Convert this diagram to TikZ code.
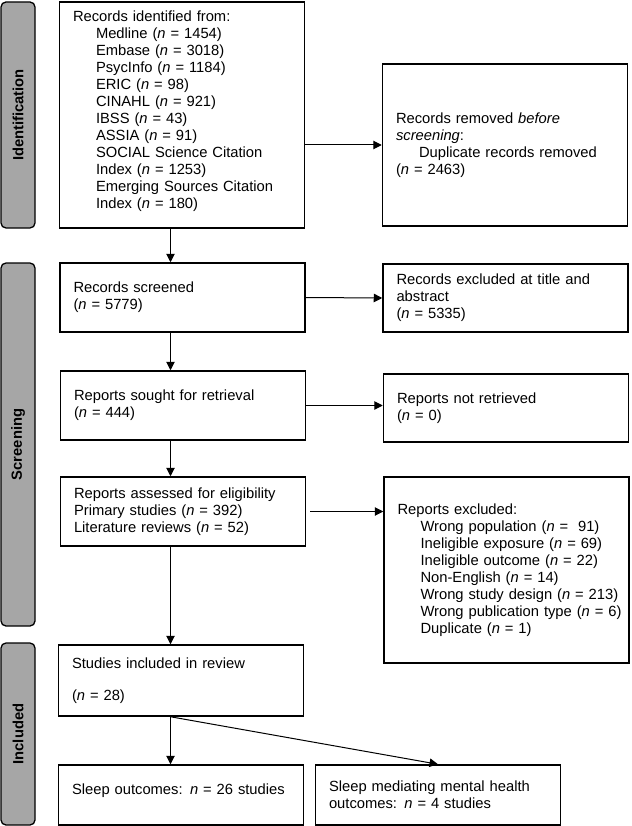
\documentclass[tikz,border=0pt]{standalone}
\usepackage{fontspec}
\setmainfont{Liberation Sans}
\usetikzlibrary{arrows.meta}

\definecolor{stagegray}{rgb}{0.650000, 0.650000, 0.650000}
\newcommand{\ind}{\hspace*{23pt}}

\begin{document}
\begin{tikzpicture}[x=1pt,y=-1pt,
  every node/.style={font=\fontsize{14.75pt}{17pt}\selectfont},
  box/.style={draw, line width=1.5pt, align=left, text width=218pt,
    inner xsep=13.5pt, inner ysep=0pt},
  stage/.style={draw, line width=1.3pt, fill=stagegray, rounded corners=5pt,
    rotate=90, minimum height=34pt, inner sep=0pt,
    font=\fontsize{14.75pt}{17pt}\selectfont\bfseries},
  arr/.style={line width=1pt, -{Triangle[length=8.5pt,width=8.5pt]}}]
\useasboundingbox (0,0) rectangle (631,826);

% stages
\node[stage, minimum width=226pt] (ident) at (18,115) {Identification};
\node[stage, minimum width=363pt] (screen) at (18,444.5) {Screening};
\node[stage, minimum width=182pt] (incl) at (18,734) {Included};

% identification
\node[box, minimum height=226pt] (records) at (182,115) {Records identified from:\\
\ind Medline (\textit{n} = 1454)\\
\ind Embase (\textit{n} = 3018)\\
\ind PsycInfo (\textit{n} = 1184)\\
\ind ERIC (\textit{n} = 98)\\
\ind CINAHL (\textit{n} = 921)\\
\ind IBSS (\textit{n} = 43)\\
\ind ASSIA (\textit{n} = 91)\\
\ind SOCIAL Science Citation\\
\ind Index (\textit{n} = 1253)\\
\ind Emerging Sources Citation\\
\ind Index (\textit{n} = 180)\\[-7pt]\mbox{}};
\node[box, minimum height=162pt] (removed) at (505,145) {Records removed \textit{before}\\
\textit{screening}:\\
\ind Duplicate records removed\\
(\textit{n} = 2463)};

% screening
\node[box, minimum height=69pt] (screened) at (182.5,297.5) {Records screened\\(\textit{n} = 5779)};
\node[box, minimum height=68pt] (excluded) at (505.5,298) {Records excluded at title and\\abstract\\(\textit{n} = 5335)};
\node[box, minimum height=69pt] (sought) at (183,405.5) {Reports sought for retrieval\\(\textit{n} = 444)};
\node[box, minimum height=68pt] (notret) at (506,408) {Reports not retrieved\\(\textit{n} = 0)};
\node[box, minimum height=69pt] (assessed) at (183,511.5) {Reports assessed for eligibility\\
Primary studies (\textit{n} = 392)\\
Literature reviews (\textit{n} = 52)};
\node[box, minimum height=186pt] (rexcl) at (506.5,570) {Reports excluded:\\
\ind\mbox{Wrong population (\textit{n} = \ 91)}\\
\ind\mbox{Ineligible exposure (\textit{n} = 69)}\\
\ind\mbox{Ineligible outcome (\textit{n} = 22)}\\
\ind\mbox{Non-English (\textit{n} = 14)}\\
\ind\mbox{Wrong study design (\textit{n} = 213)}\\
\ind\mbox{Wrong publication type (\textit{n} = 6)}\\
\ind\mbox{Duplicate (\textit{n} = 1)}};

% included
\node[box, minimum height=71pt] (studies) at (181,680.5) {Studies included in review\\[14.6pt](\textit{n} = 28)};
\node[box, minimum height=60pt] (sleep) at (181,795) {Sleep outcomes: \textit{n} = 26 studies\\[-6pt]\mbox{}};
\node[box, minimum height=60pt] (mediating) at (438,795) {Sleep mediating mental health\\outcomes: \textit{n} = 4 studies};

% arrows
\coordinate (spine) at (170.5,0);
\draw[arr] (records.south -| spine) -- (screened.north -| spine);
\draw[arr] (screened.south -| spine) -- (sought.north -| spine);
\draw[arr] (sought.south -| spine) -- (assessed.north -| spine);
\draw[arr] (assessed.south -| spine) -- (studies.north -| spine);
\draw[arr] (studies.south -| spine) -- (sleep.north -| spine);
\draw[arr] (studies.south -| spine) -- (mediating.north);
\draw[arr] (records.east |- removed.west) -- (removed.west);
\draw[arr] (screened.east) -- (excluded.west);
\draw[arr] (sought.east) -- (notret.west |- sought.east);
\draw[arr] ([xshift=4pt]assessed.east) -- (assessed.east -| rexcl.west);
\end{tikzpicture}
\end{document}
